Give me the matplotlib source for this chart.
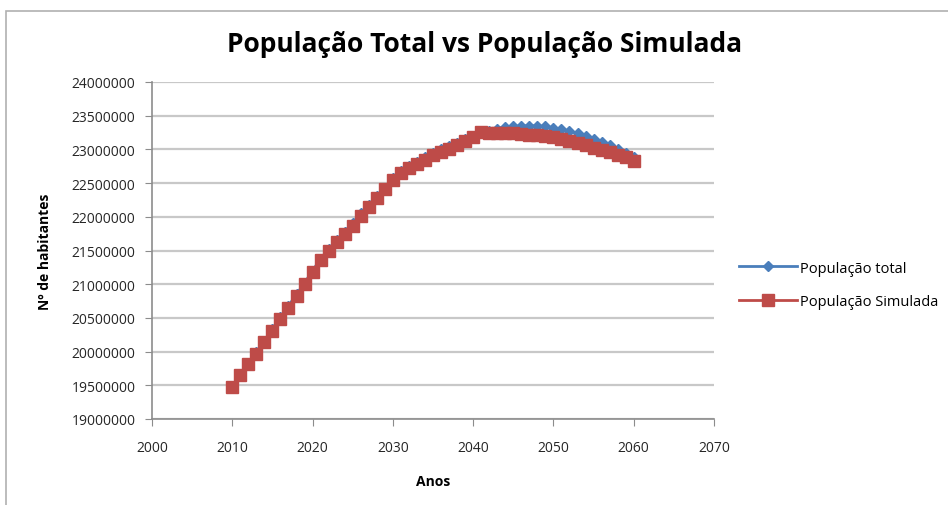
import numpy as np
import matplotlib.pyplot as plt
from matplotlib.patches import Rectangle

plt.rcParams['font.family'] = ['Open Sans', 'DejaVu Sans']

anos = np.arange(2010, 2061)

# População total (diamantes azuis)
pop_total = [
    19.49, 19.66, 19.83, 19.99, 20.16, 20.34, 20.51, 20.68, 20.85, 21.02,
    21.20, 21.38, 21.52, 21.65, 21.78, 21.91, 22.05, 22.17, 22.31, 22.43,
    22.57, 22.68, 22.76, 22.82, 22.89, 22.95, 23.00, 23.05, 23.10, 23.15,
    23.20, 23.25, 23.28, 23.31, 23.33, 23.34, 23.35, 23.35, 23.35, 23.34,
    23.32, 23.30, 23.27, 23.24, 23.20, 23.16, 23.11, 23.06, 23.00, 22.94,
    22.88,
]

# População simulada (quadrados vermelhos)
pop_simulada = [
    19.48, 19.65, 19.82, 19.97, 20.14, 20.31, 20.48, 20.65, 20.83, 21.00,
    21.18, 21.36, 21.50, 21.62, 21.75, 21.87, 22.01, 22.14, 22.28, 22.41,
    22.55, 22.65, 22.72, 22.78, 22.85, 22.91, 22.96, 23.01, 23.07, 23.13,
    23.19, 23.26, 23.25, 23.25, 23.24, 23.24, 23.23, 23.22, 23.21, 23.20,
    23.18, 23.15, 23.12, 23.09, 23.06, 23.02, 22.99, 22.96, 22.92, 22.88,
    22.83,
]

pop_total = np.array(pop_total) * 1e6
pop_simulada = np.array(pop_simulada) * 1e6

fig = plt.figure(figsize=(9.48, 5.06), dpi=100)
fig.patches.append(Rectangle((6 / 948, -0.05), 1.0, 1 - 12 / 506 + 0.05,
                             transform=fig.transFigure, fill=False,
                             edgecolor='#b0b0b0', linewidth=1.2))

ax = fig.add_axes([152 / 948, 1 - 420 / 506, 562 / 948, 337 / 506])

ax.plot(anos, pop_total, color='#4a7ebb', marker='D', markersize=5.5,
        linewidth=2, label='População total', zorder=3)
ax.plot(anos, pop_simulada, color='#be4b48', marker='s', markersize=8,
        linewidth=2, label='População Simulada', zorder=4)

ax.set_xlim(2000, 2070)
ax.set_ylim(19000000, 24000000)
ax.set_xticks(np.arange(2000, 2071, 10))
ax.set_yticks(np.arange(19000000, 24000001, 500000))
ax.yaxis.set_major_formatter(plt.FuncFormatter(lambda v, p: f'{int(v)}'))

ax.grid(axis='y', color='#c8c8c8', linewidth=1.6)
ax.set_axisbelow(True)
for s in ['top', 'right']:
    ax.spines[s].set_visible(False)
for s in ['left', 'bottom']:
    ax.spines[s].set_color('#8c8c8c')
    ax.spines[s].set_linewidth(1.2)
ax.tick_params(axis='both', direction='out', length=5, color='#8c8c8c',
               labelsize=10, labelcolor='#262626')
ax.tick_params(axis='x', pad=10)
ax.tick_params(axis='y', pad=7)

ax.set_xlabel('Anos', fontsize=10, fontweight='bold', labelpad=14)
ax.set_ylabel('Nº de habitantes', fontsize=10, fontweight='bold', labelpad=14)

fig.text(485 / 948, 1 - 45 / 506, 'População Total vs População Simulada',
         ha='center', va='center', fontsize=19, fontweight='bold')

fig.legend(loc='center left', bbox_to_anchor=(726 / 948, 1 - 286 / 506),
           frameon=False, fontsize=10.5, handlelength=4, handletextpad=0.2,
           labelspacing=1.3)

fig.savefig('out.png', dpi=100)
